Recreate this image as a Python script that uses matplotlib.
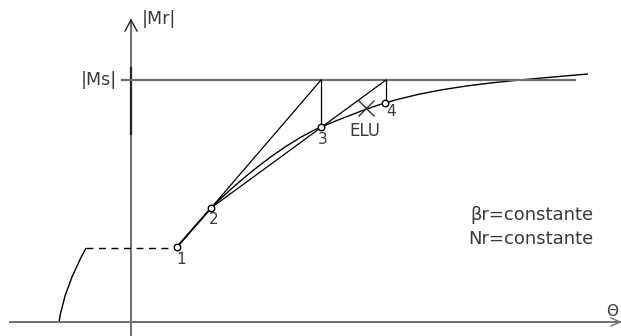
import matplotlib.pyplot as plt
from matplotlib.path import Path
from matplotlib.patches import PathPatch

# sketch coordinates (x to the right, y downwards, figure pixels)
axis_x = 131
axis_y = 322
ms_level = 80

# numbered points on the moment-rotation curve
pt_names = ["1", "2", "3", "4"]
pt_x = [177, 211, 321, 385]
pt_y = [247, 208, 127, 103]
lbl_dx = [4, 3, 2, 6]
lbl_dy = [12, 11, 12, 8]

# the M-theta curve: nodes and cubic bezier handles
curve_nodes = [(177, 247), (211, 208), (321, 127), (385, 103), (588, 74)]
curve_handles = [((188, 234), (200, 221)),
                 ((241, 178), (286, 142)),
                 ((343, 118), (365, 109)),
                 ((445, 85), (508, 81))]

# tangent lines from point 2 up to |Ms|
tan_ends = [321, 386]
tan_feet = [127, 103]

elu_x, elu_y = 366, 108

fig = plt.figure(figsize=(6.21, 3.36), dpi=100)
ax = fig.add_axes([0, 0, 1, 1])
ax.set_xlim(0, 621)
ax.set_ylim(336, 0)
ax.axis("off")

gray = "#707070"
txt = "#3a3a3a"

# axes of the diagram
ax.plot([10, 621], [axis_y, axis_y], color=gray, lw=1.4)
ax.plot([611, 620, 611], [318, axis_y, 326], color=gray, lw=1.0)
ax.plot([axis_x, axis_x], [336, 20], color=gray, lw=1.4)
ax.plot([125, axis_x, 137], [31, 20, 31], color="#222222", lw=1.0)
ax.plot([axis_x, axis_x], [68, 134], color="#222222", lw=1.6)

# |Ms| level
ax.plot([122, 575], [ms_level, ms_level], color=gray, lw=1.6)

# curve
verts = [curve_nodes[0]]
codes = [Path.MOVETO]
for (c1, c2), node in zip(curve_handles, curve_nodes[1:]):
    verts += [c1, c2, node]
    codes += [Path.CURVE4] * 3
ax.add_patch(PathPatch(Path(verts, codes), fill=False, color="black", lw=1.0))

# secant 1-2
ax.plot(pt_x[:2], pt_y[:2], color="black", lw=1.3)

# lines from 2 to |Ms| and verticals down to the curve
for xe, yf in zip(tan_ends, tan_feet):
    ax.plot([pt_x[1], xe], [pt_y[1], ms_level], color="black", lw=0.9)
    ax.plot([xe, xe], [ms_level, yf], color="black", lw=0.9)

# dashed plateau and left branch
ax.plot([86, pt_x[0]], [248, 248], color="black", lw=1.0, dashes=(5, 4))
left = Path([(59, 322), (64, 288), (86, 248)], [Path.MOVETO, Path.CURVE3, Path.CURVE3])
ax.add_patch(PathPatch(left, fill=False, color="black", lw=1.0))

# points
ax.scatter(pt_x, pt_y, s=22, facecolor="white", edgecolor="black", lw=1.0, zorder=5)
for n, x, y, dx, dy in zip(pt_names, pt_x, pt_y, lbl_dx, lbl_dy):
    ax.text(x + dx, y + dy, n, fontsize=11, color=txt, ha="center", va="center")

# ELU
ax.plot(elu_x, elu_y, marker="x", ms=11, mew=1.0, color="#333333")
ax.text(365, 131, "ELU", fontsize=12, color=txt, ha="center", va="center")

# labels
ax.text(142, 19, "|Mr|", fontsize=12.5, color=txt, ha="left", va="center")
ax.text(117, 80, "|Ms|", fontsize=12.5, color=txt, ha="right", va="center")
ax.text(606, 311, "\u0398", fontsize=11, color=txt, ha="left", va="center")
ax.text(593, 215, "\u03b2r=constante", fontsize=13, color=txt, ha="right", va="center")
ax.text(594, 239, "Nr=constante", fontsize=13, color=txt, ha="right", va="center")

fig.savefig("out.png", dpi=100)
